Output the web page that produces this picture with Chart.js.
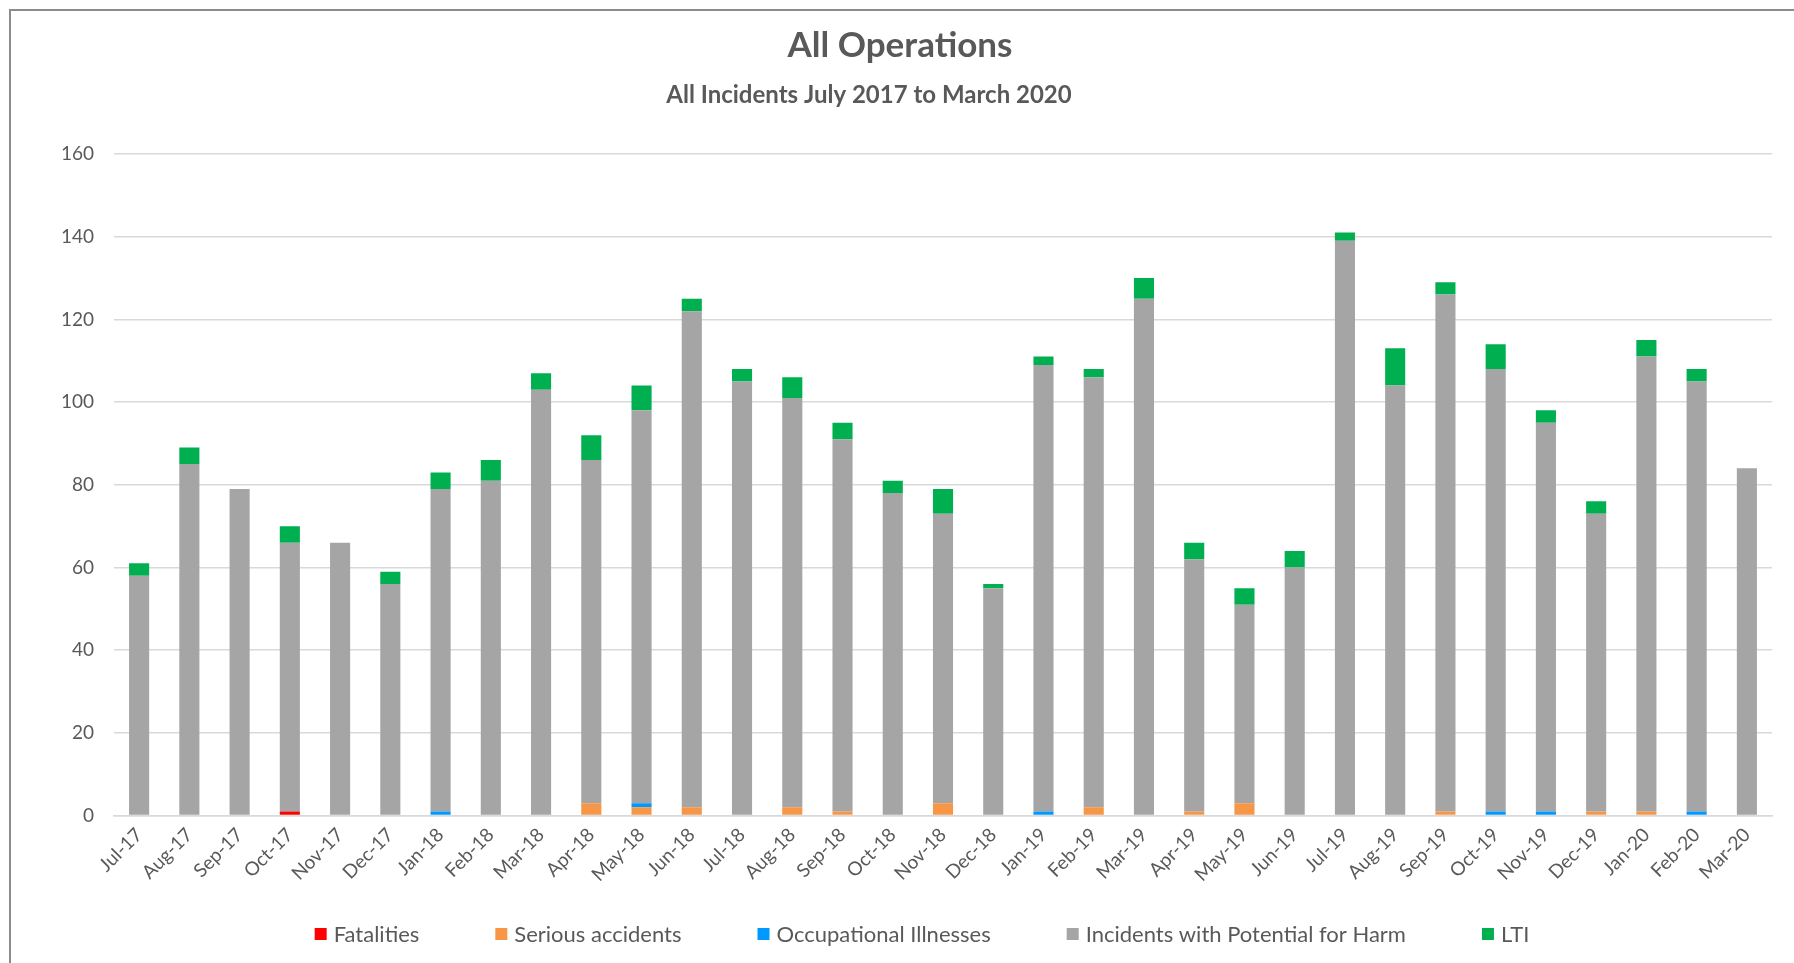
<!DOCTYPE html>
<html>
<head>
<meta charset="utf-8">
<title>All Operations</title>
<script src="https://cdn.jsdelivr.net/npm/chart.js@4.4.1/dist/chart.umd.min.js"></script>
<style>
  html, body { margin: 0; padding: 0; background: #fff; overflow: hidden; }
  #wrap { position: relative; width: 1794px; height: 963px; }
  #frame { position: absolute; left: 9px; top: 9px; width: 1900px; height: 1000px;
           border-left: 2px solid #8c8c8c; border-top: 2px solid #8c8c8c; }
  canvas { position: absolute; left: 0; top: 0; }
</style>
</head>
<body>
<div id="wrap">
  <div id="frame"></div>
  <canvas id="incidentsChart" width="1794" height="963"></canvas>
</div>
<script>
const months = ['Jul-17', 'Aug-17', 'Sep-17', 'Oct-17', 'Nov-17', 'Dec-17',
    'Jan-18', 'Feb-18', 'Mar-18', 'Apr-18', 'May-18', 'Jun-18', 'Jul-18', 'Aug-18', 'Sep-18', 'Oct-18', 'Nov-18', 'Dec-18',
    'Jan-19', 'Feb-19', 'Mar-19', 'Apr-19', 'May-19', 'Jun-19', 'Jul-19', 'Aug-19', 'Sep-19', 'Oct-19', 'Nov-19', 'Dec-19',
    'Jan-20', 'Feb-20', 'Mar-20'];

const fatalities        = [0, 0, 0, 1, 0, 0, 0, 0, 0, 0, 0, 0, 0, 0, 0, 0, 0, 0, 0, 0, 0, 0, 0, 0, 0, 0, 0, 0, 0, 0, 0, 0, 0];
const seriousAccidents  = [0, 0, 0, 0, 0, 0, 0, 0, 0, 3, 2, 2, 0, 2, 1, 0, 3, 0, 0, 2, 0, 1, 3, 0, 0, 0, 1, 0, 0, 1, 1, 0, 0];
const occupational      = [0, 0, 0, 0, 0, 0, 1, 0, 0, 0, 1, 0, 0, 0, 0, 0, 0, 0, 1, 0, 0, 0, 0, 0, 0, 0, 0, 1, 1, 0, 0, 1, 0];
const potentialForHarm  = [58, 85, 79, 65, 66, 56, 78, 81, 103, 83, 95, 120, 105, 99, 90, 78, 70, 55, 108, 104, 125, 61, 48, 60,
    139, 104, 125, 107, 94, 72, 110, 104, 84];
const lti               = [3, 4, 0, 4, 0, 3, 4, 5, 4, 6, 6, 3, 3, 5, 4, 3, 6, 1, 2, 2, 5, 4, 4, 4, 2, 9, 3, 6, 3, 3, 4, 3, 0];

const yTicks = { min: 0, max: 160, step: 20 };

const textGrey = '#595959';
Chart.defaults.font.family = 'Lato';
Chart.defaults.color = textGrey;

// legend drawn under the axis, spaced like the Excel one
const legendBelow = {
    id: 'legendBelow',
    afterDraw(chart, args, opts) {
        const ctx = chart.ctx;
        const sets = chart.data.datasets;
        ctx.save();
        ctx.font = opts.font;
        ctx.textBaseline = 'middle';
        const widths = sets.map(ds => opts.box + opts.gap + ctx.measureText(ds.label).width);
        const total = widths.reduce((a, b) => a + b, 0) + opts.spacing * (sets.length - 1);
        let x = opts.centerX - total / 2;
        sets.forEach((ds, i) => {
            ctx.fillStyle = ds.backgroundColor;
            ctx.fillRect(x, opts.y - opts.box / 2, opts.box, opts.box);
            ctx.fillStyle = opts.color;
            ctx.fillText(ds.label, x + opts.box + opts.gap, opts.y + 1);
            x += widths[i] + opts.spacing;
        });
        ctx.restore();
    }
};

// subtitle sits a bit left of the main title in the original
const sideSubtitle = {
    id: 'sideSubtitle',
    afterDraw(chart, args, opts) {
        const ctx = chart.ctx;
        ctx.save();
        ctx.font = opts.font;
        ctx.fillStyle = opts.color;
        ctx.textAlign = 'center';
        ctx.textBaseline = 'middle';
        ctx.fillText(opts.text, opts.x, opts.y);
        ctx.restore();
    }
};

const ctx = document.getElementById('incidentsChart').getContext('2d');

const incidentsChart = new Chart(ctx, {
    type: 'bar',
    data: {
        labels: months,
        datasets: [
            { label: 'Fatalities', data: fatalities, backgroundColor: '#FF0000' },
            { label: 'Serious accidents', data: seriousAccidents, backgroundColor: '#F79646' },
            { label: 'Occupational Illnesses', data: occupational, backgroundColor: '#0099FF' },
            { label: 'Incidents with Potential for Harm', data: potentialForHarm, backgroundColor: '#A5A5A5' },
            { label: 'LTI', data: lti, backgroundColor: '#00B050' }
        ].map(ds => Object.assign(ds, { barPercentage: 0.4, categoryPercentage: 1.0, borderWidth: 0 }))
    },
    options: {
        responsive: false,
        animation: false,
        layout: { padding: { left: 28, right: 22, top: 0, bottom: 69 } },
        scales: {
            x: {
                stacked: true,
                grid: { display: false, drawTicks: false },
                border: { color: '#d9d9d9', width: 1.5 },
                ticks: { color: textGrey, font: { size: 19 }, minRotation: 45, maxRotation: 45, autoSkip: false, padding: 8 }
            },
            y: {
                stacked: true,
                min: yTicks.min,
                max: yTicks.max,
                ticks: { stepSize: yTicks.step, color: textGrey, font: { size: 19 }, padding: 20 },
                grid: { color: '#d9d9d9', lineWidth: 1.5, drawTicks: false },
                border: { display: false },
                afterFit(scale) { scale.width = 86; }
            }
        },
        plugins: {
            legend: { display: false },
            tooltip: { enabled: false },
            title: {
                display: true,
                text: 'All Operations',
                color: textGrey,
                font: { size: 35, weight: 'bold' },
                padding: { top: 25, bottom: 87 }
            },
            sideSubtitle: {
                text: 'All Incidents July 2017 to March 2020',
                font: 'bold 24px Lato',
                color: textGrey,
                x: 869,
                y: 95
            },
            legendBelow: {
                font: '22px Lato',
                color: textGrey,
                box: 12,
                gap: 7,
                spacing: 76,
                centerX: 922,
                y: 934
            }
        }
    },
    plugins: [legendBelow, sideSubtitle]
});
</script>
</body>
</html>
